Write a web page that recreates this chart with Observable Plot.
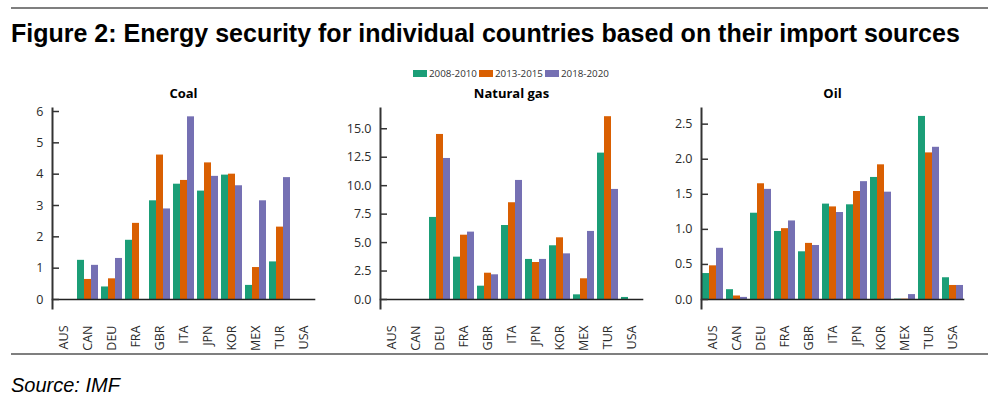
<!DOCTYPE html>
<html><head><meta charset="utf-8">
<script src="https://cdn.jsdelivr.net/npm/d3@7"></script>
<script src="https://cdn.jsdelivr.net/npm/@observablehq/plot@0.6"></script>
<style>
html,body{margin:0;padding:0;background:#fff}
body{width:991px;height:402px;position:relative;overflow:hidden;font-family:"Liberation Sans",Arial,sans-serif}
.rule{position:absolute;left:11px;width:977px;height:2px;background:#7f7f7f}
#title{position:absolute;left:11px;top:19px;font-size:25px;line-height:28px;font-weight:bold;color:#000;white-space:nowrap}
#source{position:absolute;left:11px;top:373px;font-size:20px;line-height:24px;font-style:italic;color:#000}
.panel{position:absolute;top:60px}
#legend{position:absolute;left:413px;top:66px;height:14px;display:flex;align-items:center;font-family:"Open Sans",sans-serif;font-size:9.8px;color:#333;white-space:nowrap}
#legend .sw{display:inline-block;width:14px;height:7px;margin-right:2px}
#legend .it{display:flex;align-items:center;margin-right:2px}
</style></head><body>
<div class="rule" style="top:7px"></div>
<div id="title">Figure 2: Energy security for individual countries based on their import sources</div>
<div id="legend"></div>
<div id="p0" class="panel" style="left:0px"></div>
<div id="p1" class="panel" style="left:330px"></div>
<div id="p2" class="panel" style="left:660px"></div>
<div class="rule" style="top:353px"></div>
<div id="source">Source: IMF</div>
<script>
const countries = ["AUS","CAN","DEU","FRA","GBR","ITA","JPN","KOR","MEX","TUR","USA"];
const periods = ["2008-2010","2013-2015","2018-2020"];
const periodColors = ["#1b9e77","#d95f02","#7570b3"];
const panelTitles = ["Coal","Natural gas","Oil"];

// Coal
const coal_2008_2010 = [0, 1.25, 0.40, 1.89, 3.15, 3.68, 3.46, 3.97, 0.45, 1.20, 0];
const coal_2013_2015 = [0, 0.64, 0.66, 2.43, 4.61, 3.80, 4.36, 4.00, 1.02, 2.31, 0];
const coal_2018_2020 = [0, 1.09, 1.31, 0, 2.89, 5.83, 3.93, 3.63, 3.15, 3.89, 0];
// Natural gas
const gas_2008_2010 = [0, 0, 7.21, 3.72, 1.17, 6.50, 3.52, 4.72, 0.41, 12.86, 0.18];
const gas_2013_2015 = [0, 0, 14.50, 5.65, 2.31, 8.50, 3.25, 5.42, 1.82, 16.06, 0];
const gas_2018_2020 = [0, 0, 12.39, 5.92, 2.17, 10.46, 3.52, 4.01, 5.98, 9.67, 0];
// Oil
const oil_2008_2010 = [0.37, 0.14, 1.23, 0.97, 0.68, 1.36, 1.35, 1.74, 0.005, 2.61, 0.31];
const oil_2013_2015 = [0.48, 0.05, 1.65, 1.01, 0.80, 1.32, 1.54, 1.92, 0.005, 2.09, 0.20];
const oil_2018_2020 = [0.73, 0.03, 1.57, 1.12, 0.77, 1.24, 1.68, 1.53, 0.07, 2.17, 0.20];

const coalTicks = [0,1,2,3,4,5,6];
const gasTicks = [0,2.5,5,7.5,10,12.5,15];
const oilTicks = [0,0.5,1,1.5,2,2.5];

function toRows(series) {
  const rows = [];
  series.forEach((vals, j) => vals.forEach((v, i) => rows.push({country: countries[i], period: periods[j], value: v})));
  return rows;
}

// legend
const lg = document.getElementById("legend");
periods.forEach((p, i) => {
  const it = document.createElement("span"); it.className = "it";
  const sw = document.createElement("span"); sw.className = "sw"; sw.style.background = periodColors[i];
  it.appendChild(sw); it.appendChild(document.createTextNode(p)); lg.appendChild(it);
});

function panel(title, rows, yDomain, ticks, fmt, width, mL, mR) {
  return Plot.plot({
    width, height: 290, marginTop: 48, marginBottom: 51, marginLeft: mL, marginRight: mR,
    style: {fontFamily: "'Open Sans', sans-serif", fontSize: "12.5px", color: "#2b2b2b", background: "transparent", overflow: "visible"},
    fx: {domain: countries, paddingInner: 0.07, paddingOuter: 0.19, label: null},
    x: {domain: periods, axis: null, padding: 0},
    y: {domain: yDomain, label: null},
    color: {domain: periods, range: periodColors},
    marks: [
      Plot.barY(rows, {fx: "country", x: "period", y: "value", fill: "period"}),
      Plot.frame({anchor: "bottom", facet: "super", stroke: "#222", strokeWidth: 1.6}),
      Plot.frame({anchor: "left", facet: "super", stroke: "#333", strokeWidth: 2, insetBottom: -9}),
      Plot.axisY({ticks, tickFormat: fmt, tickSize: 0, tickPadding: 9, fontSize: 12.5, label: null}),
      Plot.axisY({ticks, tickSize: 7, dx: 7, fill: "none", stroke: "#333", strokeWidth: 1.5, label: null}),
      Plot.axisFx({anchor: "bottom", tickRotate: -90, tickSize: 0, tickPadding: 26, fontSize: 12.5, label: null}),
      Plot.text([title], {facet: "super", frameAnchor: "top", dy: -20, fontWeight: "bold", fontSize: 13, fill: "#000"})
    ]
  });
}

document.getElementById("p0").appendChild(panel(panelTitles[0], toRows([coal_2008_2010, coal_2013_2015, coal_2018_2020]), [0, 6.096], coalTicks, d3.format("d"), 330, 45, 8));
document.getElementById("p1").appendChild(panel(panelTitles[1], toRows([gas_2008_2010, gas_2013_2015, gas_2018_2020]), [0, 16.78], gasTicks, d3.format(".1f"), 330, 43, 11));
document.getElementById("p2").appendChild(panel(panelTitles[2], toRows([oil_2008_2010, oil_2013_2015, oil_2018_2020]), [0, 2.723], oilTicks, d3.format(".1f"), 331, 34, 21));
</script>
</body></html>
